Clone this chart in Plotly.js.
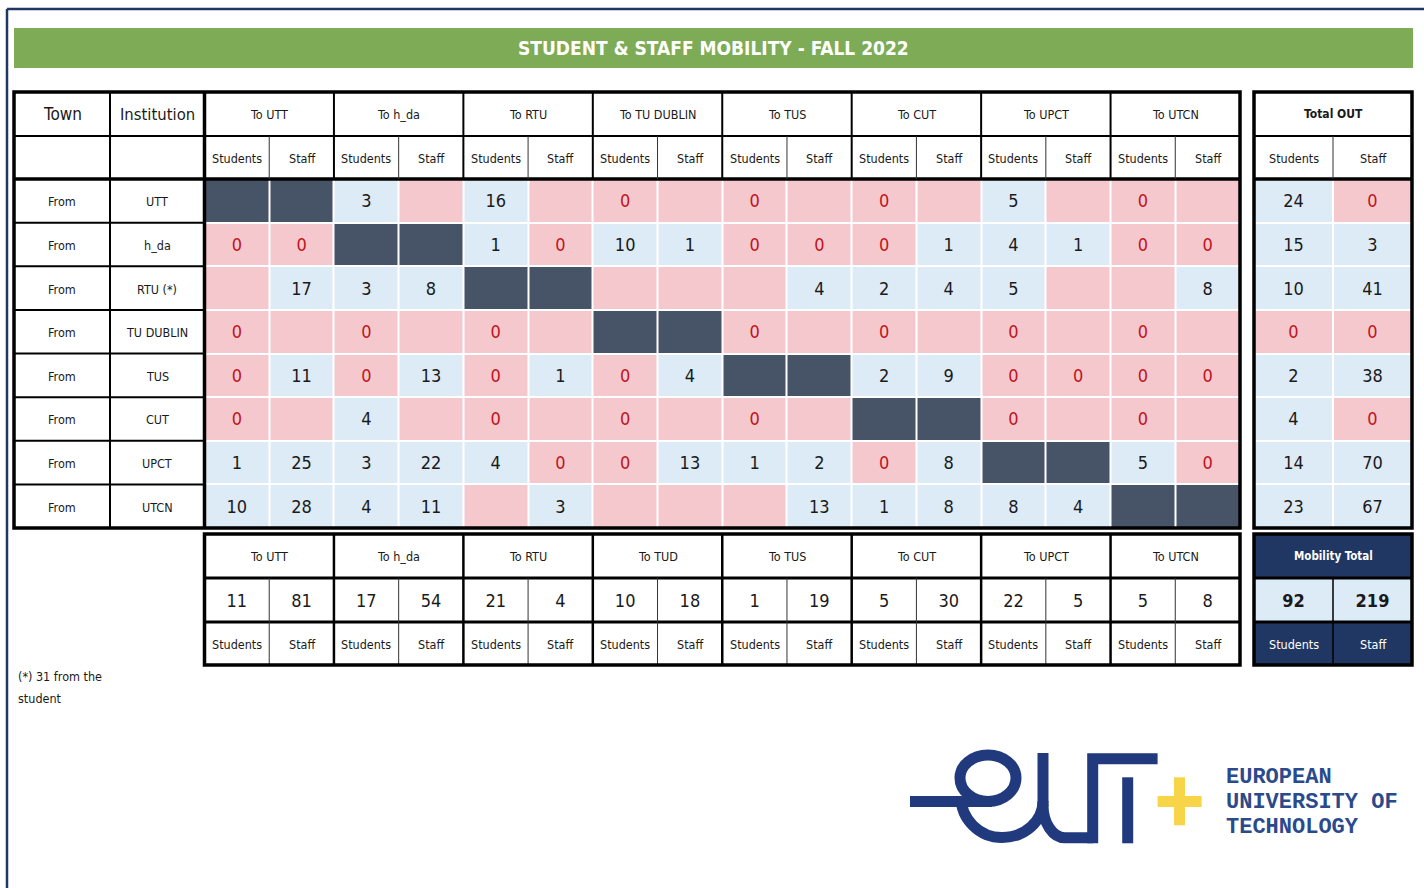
<!DOCTYPE html>
<html><head><meta charset="utf-8">
<script src="https://cdn.plot.ly/plotly-3.0.1.min.js"></script>
<style>html,body{margin:0;padding:0;background:#fff;overflow:hidden;} #chart{width:1424px;height:888px;}</style>
</head><body><div id="chart"></div>
<script>
// ================= DATA =================
const chartTitle = "STUDENT & STAFF MOBILITY - FALL 2022";
const institutions = ["UTT", "h_da", "RTU (*)", "TU DUBLIN", "TUS", "CUT", "UPCT", "UTCN"];
const toHeaders = ["To UTT", "To h_da", "To RTU", "To TU DUBLIN", "To TUS", "To CUT", "To UPCT", "To UTCN"];
const toHeadersBottom = ["To UTT", "To h_da", "To RTU", "To TUD", "To TUS", "To CUT", "To UPCT", "To UTCN"];
const subLabels = ["Students", "Staff"];
// Each row: [students, staff] for each destination in order of toHeaders; null = empty cell
// (the diagonal pair, same institution, is shaded dark)
const fromUTT      = [null, null,   3, null,  16, null,   0, null,   0, null,   0, null,   5, null,   0, null];
const fromHDA      = [   0,    0, null, null,   1,    0,  10,    1,   0,    0,   0,    1,   4,    1,   0,    0];
const fromRTU      = [null,   17,   3,    8, null, null, null, null, null,   4,   2,    4,   5, null, null,   8];
const fromTUDublin = [   0, null,   0, null,   0, null, null, null,   0, null,   0, null,   0, null,   0, null];
const fromTUS      = [   0,   11,   0,   13,   0,    1,   0,    4, null, null,   2,    9,   0,    0,   0,    0];
const fromCUT      = [   0, null,   4, null,   0, null,   0, null,   0, null, null, null,   0, null,   0, null];
const fromUPCT     = [   1,   25,   3,   22,   4,    0,   0,   13,   1,    2,   0,    8, null, null,   5,    0];
const fromUTCN     = [  10,   28,   4,   11, null,    3, null, null, null,  13,   1,    8,   8,    4, null, null];
const fromRows = [fromUTT, fromHDA, fromRTU, fromTUDublin, fromTUS, fromCUT, fromUPCT, fromUTCN];
const totalOutStudents = [24, 15, 10, 0, 2, 4, 14, 23];
const totalOutStaff    = [0, 3, 41, 0, 38, 0, 70, 67];
const totalInStudents  = [11, 17, 21, 10, 1, 5, 22, 5];
const totalInStaff     = [81, 54, 4, 18, 19, 30, 5, 8];
const mobilityTotal    = [92, 219];
const footnoteLines = ["(*) 31 from the", "student"];
const logoLines = ["EUROPEAN", "UNIVERSITY OF", "TECHNOLOGY"];

// ================= STYLE / LAYOUT =================
const FONT = "'Liberation Sans Narrow','Arial Narrow','DejaVu Sans Condensed',sans-serif";
const PINK = "#f5c8ce", BLUE = "#ddebf7", DARK = "#475467", NAVY = "#213763";
const RED = "#c0141c", BLACK = "#1a1a1a", GREEN = "#7eab55", LOGO = "#213a7d", YELLOW = "#f8d448";
const X_LEFT = 14, X_TOWN = 110, X_DATA = 204.5, X_RIGHT = 1240;
const TOT = [1254, 1333, 1412];
const Y_TOP = 92, Y_H1 = 136, Y_H2 = 179, Y_BOT = 528;
const B = [534, 578, 622, 665];
const TXT_DY = 2;
const subEdges = Array.from({length: 17}, (_, k) => X_DATA + k * (X_RIGHT - X_DATA) / 16);
const rowEdges = Array.from({length: 9}, (_, k) => Y_H2 + k * (Y_BOT - Y_H2) / 8);
const mid = (a, b) => (a + b) / 2;
const subMid = j => mid(subEdges[j], subEdges[j + 1]);
const grpMid = g => mid(subEdges[2 * g], subEdges[2 * g + 2]);
const rowMid = i => mid(rowEdges[i], rowEdges[i + 1]);

// ----- heatmap categories -----
const zMain = fromRows.map((row, i) => row.map((v, j) => Math.floor(j / 2) === i ? 2 : (v > 0 ? 1 : 0)));
const zTot = totalOutStudents.map((s, i) => [s > 0 ? 1 : 0, totalOutStaff[i] > 0 ? 1 : 0]);
const cscale = [[0, PINK], [0.333, PINK], [0.334, BLUE], [0.666, BLUE], [0.667, DARK], [1, DARK]];

const traces = [];
traces.push({type: 'heatmap', x: subEdges, y: rowEdges, z: zMain, zmin: 0, zmax: 2, colorscale: cscale,
  showscale: false, xgap: 2, ygap: 2, hoverinfo: 'skip'});
traces.push({type: 'heatmap', x: TOT, y: rowEdges, z: zTot, zmin: 0, zmax: 2, colorscale: cscale,
  showscale: false, xgap: 2, ygap: 2, hoverinfo: 'skip'});

// ----- cell values -----
const tx = [], ty = [], tt = [], tc = [];
fromRows.forEach((row, i) => row.forEach((v, j) => {
  if (v === null || Math.floor(j / 2) === i) return;
  tx.push(subMid(j)); ty.push(rowMid(i) + TXT_DY); tt.push(String(v)); tc.push(v === 0 ? RED : BLACK);
}));
totalOutStudents.forEach((v, i) => { tx.push(mid(TOT[0], TOT[1])); ty.push(rowMid(i) + TXT_DY); tt.push(String(v)); tc.push(v === 0 ? RED : BLACK); });
totalOutStaff.forEach((v, i) => { tx.push(mid(TOT[1], TOT[2])); ty.push(rowMid(i) + TXT_DY); tt.push(String(v)); tc.push(v === 0 ? RED : BLACK); });
totalInStudents.forEach((v, g) => { tx.push(subMid(2 * g)); ty.push(mid(B[1], B[2]) + TXT_DY); tt.push(String(v)); tc.push(BLACK); });
totalInStaff.forEach((v, g) => { tx.push(subMid(2 * g + 1)); ty.push(mid(B[1], B[2]) + TXT_DY); tt.push(String(v)); tc.push(BLACK); });
traces.push({type: 'scatter', mode: 'text', x: tx, y: ty, text: tt, textposition: 'middle center',
  textfont: {family: FONT, size: 18, color: tc}, hoverinfo: 'skip', cliponaxis: false, showlegend: false});
traces.push({type: 'scatter', mode: 'text', x: [mid(TOT[0], TOT[1]), mid(TOT[1], TOT[2])], y: [mid(B[1], B[2]) + TXT_DY, mid(B[1], B[2]) + TXT_DY],
  text: mobilityTotal.map(String), textposition: 'middle center',
  textfont: {family: FONT, size: 18, color: BLACK, weight: 'bold'}, hoverinfo: 'skip', cliponaxis: false, showlegend: false});

// ----- shapes -----
const shapes = [];
const line = (x0, y0, x1, y1, w, c, layer) => shapes.push({type: 'line', x0, y0, x1, y1, line: {width: w, color: c || '#000'}, layer: layer || 'above'});
const rect = (x0, y0, x1, y1, fill, lw, lc, layer) => shapes.push({type: 'rect', x0, y0, x1, y1, fillcolor: fill || 'rgba(0,0,0,0)', line: {width: lw || 0, color: lc || '#000'}, layer: layer || 'above'});
// page frame
line(7, 9, 1424, 9, 2.5, NAVY); line(7, 9, 7, 888, 2.5, NAVY);
// title bar
rect(14, 28, 1413, 68, GREEN, 0, null, 'below');
// main table borders
line(X_LEFT, Y_H1, X_RIGHT, Y_H1, 2);
line(X_LEFT, Y_H2, X_RIGHT, Y_H2, 3.5);
line(X_TOWN, Y_TOP, X_TOWN, Y_BOT, 2);
line(X_DATA, Y_TOP, X_DATA, Y_BOT, 3.5);
for (let g = 1; g < 8; g++) line(subEdges[2 * g], Y_TOP, subEdges[2 * g], Y_H2, 2);
for (let g = 0; g < 8; g++) line(subEdges[2 * g + 1], Y_H1, subEdges[2 * g + 1], Y_H2, 1, '#333');
for (let i = 1; i < 8; i++) line(X_LEFT, rowEdges[i], X_DATA, rowEdges[i], 2);
rect(X_LEFT, Y_TOP, X_RIGHT, Y_BOT, null, 3.5);
// total out borders
line(TOT[0], Y_H1, TOT[2], Y_H1, 2);
line(TOT[0], Y_H2, TOT[2], Y_H2, 3.5);
line(TOT[1], Y_H1, TOT[1], Y_H2, 1, '#333');
rect(TOT[0], Y_TOP, TOT[2], Y_BOT, null, 3.5);
// bottom block
line(X_DATA, B[1], X_RIGHT, B[1], 3);
line(X_DATA, B[2], X_RIGHT, B[2], 3);
for (let g = 1; g < 8; g++) line(subEdges[2 * g], B[0], subEdges[2 * g], B[3], 2.5);
for (let g = 0; g < 8; g++) line(subEdges[2 * g + 1], B[1], subEdges[2 * g + 1], B[3], 1, '#333');
rect(X_DATA, B[0], X_RIGHT, B[3], null, 3.5);
// mobility total block
rect(TOT[0], B[0], TOT[2], B[1], NAVY, 0, null, 'below');
rect(TOT[0], B[1], TOT[2], B[2], BLUE, 0, null, 'below');
rect(TOT[0], B[2], TOT[2], B[3], NAVY, 0, null, 'below');
line(TOT[0], B[1], TOT[2], B[1], 3);
line(TOT[0], B[2], TOT[2], B[2], 3);
line(TOT[1], B[1], TOT[1], B[3], 1.5);
rect(TOT[0], B[0], TOT[2], B[3], null, 3.5);

// logo (decorative paths)
const lp = (d, c, w) => shapes.push({type: 'path', path: d, line: {width: w, color: c}, fillcolor: 'rgba(0,0,0,0)', layer: 'above'});
lp('M 910 801.5 L 992 801.5', LOGO, 11);
lp('M 960 778 C 960 765.3 972.5 755 988 755 C 1003.5 755 1016 765.3 1016 778 C 1016 790.7 1003.5 801.5 988 801.5 C 972.5 801.5 960 790.7 960 778 Z', LOGO, 11);
lp('M 961 797 C 961 819.2 979.4 837.5 1002 837.5 C 1024.6 837.5 1043 821.2 1043 801', LOGO, 11);
lp('M 1043 753 L 1043 806', LOGO, 11);
lp('M 1043 805 C 1043 823 1052.8 837.8 1065 837.8 L 1093 837.8', LOGO, 11);
lp('M 1092.7 843.3 L 1092.7 758.8 L 1157.6 758.8', LOGO, 11);
lp('M 1127.7 777.3 L 1127.7 843.3', LOGO, 11);
lp('M 1157.6 801.6 L 1201.6 801.6', YELLOW, 11);
lp('M 1179.5 777.3 L 1179.5 825.3', YELLOW, 11);

// ----- annotations -----
const ann = [];
const A = (x, y, text, size, opts) => ann.push(Object.assign({x, y, xref: 'x', yref: 'y', text, showarrow: false,
  xanchor: 'center', yanchor: 'middle', font: {family: FONT, size, color: BLACK}}, opts || {}));
A(713, 48, chartTitle, 19, {font: {family: FONT, size: 19, color: '#ffffff', weight: 'bold'}});
A(mid(X_LEFT, X_TOWN), mid(Y_TOP, Y_H1), 'Town', 17);
A(mid(X_TOWN, X_DATA), mid(Y_TOP, Y_H1), 'Institution', 16.5);
toHeaders.forEach((h, g) => A(grpMid(g), mid(Y_TOP, Y_H1), h, 12.5));
for (let j = 0; j < 16; j++) A(subMid(j), mid(Y_H1, Y_H2) + 0.5, subLabels[j % 2], 12.5);
A(mid(TOT[0], TOT[2]), mid(Y_TOP, Y_H1), 'Total OUT', 12, {font: {family: FONT, size: 12, color: BLACK, weight: 'bold'}});
A(mid(TOT[0], TOT[1]), mid(Y_H1, Y_H2) + 0.5, 'Students', 12.5);
A(mid(TOT[1], TOT[2]), mid(Y_H1, Y_H2) + 0.5, 'Staff', 12.5);
institutions.forEach((n, i) => { A(mid(X_LEFT, X_TOWN), rowMid(i) + 1, 'From', 12.5); A(mid(X_TOWN, X_DATA), rowMid(i) + 1, n, 12.5); });
toHeadersBottom.forEach((h, g) => A(grpMid(g), mid(B[0], B[1]), h, 12.5));
for (let j = 0; j < 16; j++) A(subMid(j), mid(B[2], B[3]) + 1, subLabels[j % 2], 12.5);
A(mid(TOT[0], TOT[2]), mid(B[0], B[1]), 'Mobility Total', 11.5, {font: {family: FONT, size: 11.5, color: '#ffffff', weight: 'bold'}});
A(mid(TOT[0], TOT[1]), mid(B[2], B[3]) + 1, 'Students', 12.5, {font: {family: FONT, size: 12.5, color: '#ffffff'}});
A(mid(TOT[1], TOT[2]), mid(B[2], B[3]) + 1, 'Staff', 12.5, {font: {family: FONT, size: 12.5, color: '#ffffff'}});
footnoteLines.forEach((t, k) => A(16, 676 + 22 * k, t, 12.5, {xanchor: 'left'}));
logoLines.forEach((t, k) => A(1224, 777 + 25 * k, t, 22, {xanchor: 'left',
  font: {family: "'Liberation Mono','DejaVu Sans Mono',monospace", size: 22, color: '#2b4a8b', weight: 'bold'}}));

const layout = {
  width: 1424, height: 888, margin: {l: 0, r: 0, t: 0, b: 0, pad: 0},
  paper_bgcolor: '#ffffff', plot_bgcolor: '#ffffff', showlegend: false,
  xaxis: {range: [0, 1424], visible: false, fixedrange: true, showgrid: false, zeroline: false},
  yaxis: {range: [888, 0], visible: false, fixedrange: true, showgrid: false, zeroline: false},
  shapes, annotations: ann, hovermode: false
};
Plotly.newPlot('chart', traces, layout, {displayModeBar: false, staticPlot: true});
</script></body></html>
